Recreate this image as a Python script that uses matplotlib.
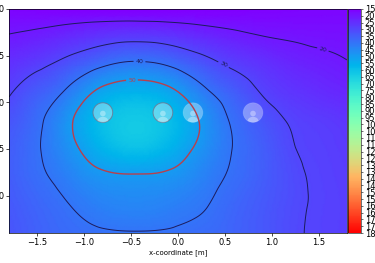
import matplotlib
matplotlib.use("Agg")
import matplotlib.pyplot as plt
import matplotlib.tri as mtri
from matplotlib.patches import Circle, Ellipse
import numpy as np

# grid of values (rows top -> bottom)
x_grid = [-1.8, -1.5, -1.2, -0.9, -0.6, -0.3, 0.0, 0.3, 0.6, 0.9, 1.2, 1.5, 1.8]
y_grid = [2.0, 1.7, 1.4, 1.1, 0.8, 0.5, 0.2, -0.1, -0.4]
level_rows = [
    [16.1, 15.5, 15.1, 14.6, 14.2, 14.0, 14.2, 14.5, 15.0, 15.6, 16.0, 16.4, 16.6],
    [20.5, 21.8, 23.8, 25.9, 27.5, 27.5, 25.9, 23.7, 21.7, 20.2, 19.4, 18.8, 18.4],
    [25.5, 28.4, 32.5, 37.5, 41.4, 41.5, 37.9, 32.9, 28.7, 25.8, 23.3, 21.8, 20.4],
    [29.4, 34.8, 41.0, 50.5, 55.7, 55.7, 50.5, 41.5, 35.1, 29.6, 26.6, 24.7, 23.2],
    [33.1, 38.4, 47.1, 57.0, 62.2, 62.2, 57.0, 47.3, 38.7, 33.4, 29.5, 27.9, 26.3],
    [34.8, 39.3, 46.0, 54.0, 59.2, 59.2, 54.0, 46.2, 39.6, 35.1, 30.6, 28.8, 27.4],
    [34.8, 38.5, 42.5, 47.2, 49.0, 49.0, 47.3, 42.9, 38.7, 35.1, 31.4, 29.3, 28.0],
    [33.9, 36.7, 39.5, 42.5, 44.1, 44.1, 42.6, 40.3, 36.9, 34.1, 31.3, 29.4, 28.3],
    [33.0, 35.8, 37.8, 39.0, 39.6, 39.6, 39.1, 38.0, 36.2, 33.8, 31.0, 29.3, 28.3],
]

# listener positions
src_x = [-0.8, -0.16, 0.16, 0.8]
src_y = [0.89, 0.89, 0.89, 0.89]
src_active = [True, True, False, False]

contour_levels = [20, 30, 40, 50]
contour_colors = ['#1c1c5c', '#1c1c5c', '#1c1c5c', '#b8404c']
label_pos = [(1.54, 1.55), (0.50, 1.43), (-0.41, 1.43), (-0.49, 1.24)]
cbar_ticks = list(range(15, 181, 5))

X, Y = np.meshgrid(x_grid, y_grid)
Z = np.array(level_rows)
tri = mtri.Triangulation(X.ravel(), Y.ravel())
refiner = mtri.UniformTriRefiner(tri)
tri_f, z_f = refiner.refine_field(Z.ravel(), subdiv=4)

fig = plt.figure(figsize=(3.75, 2.63), dpi=100)
ax = fig.add_axes([0.024, 0.114, 0.901, 0.852])
cax = fig.add_axes([0.928, 0.114, 0.035, 0.852])

pc = ax.tripcolor(tri_f, z_f, shading='gouraud', cmap='rainbow', vmin=15, vmax=180)
cs = ax.tricontour(tri_f, z_f, levels=contour_levels, colors=contour_colors,
                   linewidths=[0.7, 0.7, 0.7, 1.0])
ax.clabel(cs, fontsize=4.5, manual=label_pos, inline=True, inline_spacing=2)

for sx, sy, act in zip(src_x, src_y, src_active):
    ec = (0.45, 0.45, 0.55, 0.8) if act else (1, 1, 1, 0.15)
    disc = Circle((sx, sy), 0.105, facecolor=(1, 1, 1, 0.35), edgecolor=ec, lw=0.7)
    ax.add_patch(disc)
    head = Circle((sx, sy - 0.01), 0.03, facecolor=(1, 1, 1, 0.35), lw=0)
    body = Ellipse((sx, sy - 0.095), 0.12, 0.1, facecolor=(1, 1, 1, 0.35), lw=0)
    ax.add_patch(head)
    ax.add_patch(body)
    body.set_clip_path(disc)

ax.set_xlim(-1.8, 1.8)
ax.set_ylim(-0.4, 2.0)
ax.set_xticks([-1.5, -1.0, -0.5, 0.0, 0.5, 1.0, 1.5])
ax.set_yticks([0.0, 0.5, 1.0, 1.5, 2.0])
ax.tick_params(labelsize=6, length=2, width=0.5, pad=1.5)
ax.set_xlabel('x-coordinate [m]', fontsize=5, labelpad=1.5)
for s in ax.spines.values():
    s.set_linewidth(0.5)

cb = fig.colorbar(pc, cax=cax, ticks=cbar_ticks)
cax.invert_yaxis()
cax.tick_params(labelsize=6, length=1.5, width=0.4, pad=1)
cb.outline.set_linewidth(0.4)

fig.savefig('out.png', dpi=100)
